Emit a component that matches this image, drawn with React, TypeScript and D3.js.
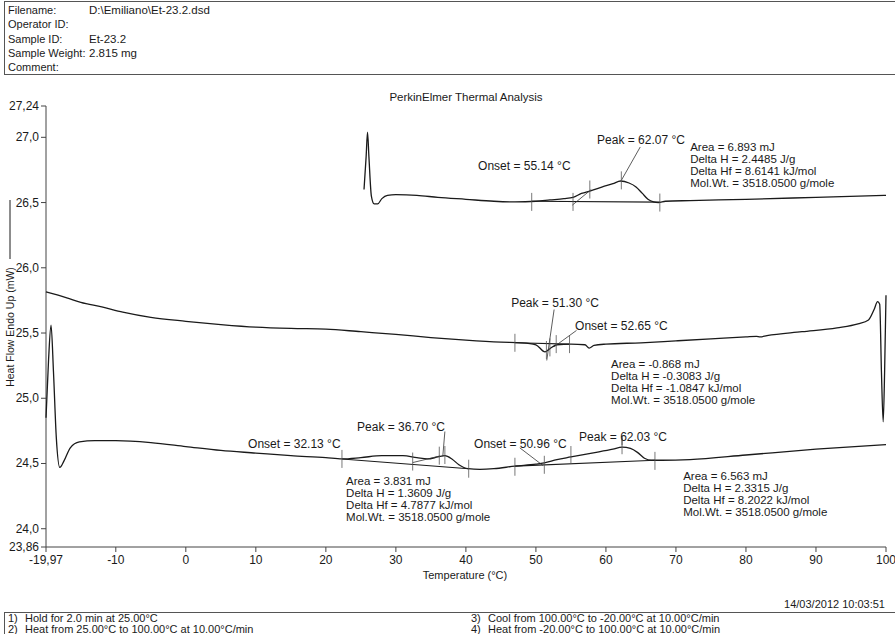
import React from "react";
import * as d3 from "d3";

// header / footer text
const headerLabels = ["Filename:", "Operator ID:", "Sample ID:", "Sample Weight:", "Comment:"];
const headerValues = ["D:\\Emiliano\\Et-23.2.dsd", "", "Et-23.2", "2.815 mg", ""];
const methodSteps = [
  "Hold for 2.0 min at 25.00°C",
  "Heat from 25.00°C to 100.00°C at 10.00°C/min",
  "Cool from 100.00°C to -20.00°C at 10.00°C/min",
  "Heat from -20.00°C to 100.00°C at 10.00°C/min",
];
const runDate = "14/03/2012 10:03:51";

// axes
const tempTicks = [-19.97, -10, 0, 10, 20, 30, 40, 50, 60, 70, 80, 90, 100];
const flowTicks = [23.86, 24.0, 24.5, 25.0, 25.5, 26.0, 26.5, 27.0, 27.24];
const flowTickLabels = ["23,86", "24,0", "24,5", "25,0", "25,5", "26,0", "26,5", "27,0", "27,24"];

// scan 2: heat 25 -> 100
const heat1T = [25.45, 25.75, 25.95, 26.15, 26.5, 26.9, 27.4, 28.0, 28.8, 30, 33, 36, 40, 44, 47, 50, 52, 54, 55.3, 56.5, 57.8, 59.5, 61, 62.1, 63.3, 64.3, 65.2, 66.0, 66.8, 67.5, 68.5, 72, 80, 90, 100];
const heat1HF = [26.6, 26.85, 27.04, 26.85, 26.55, 26.49, 26.49, 26.53, 26.555, 26.56, 26.555, 26.54, 26.525, 26.51, 26.505, 26.51, 26.52, 26.53, 26.54, 26.57, 26.59, 26.62, 26.645, 26.665, 26.65, 26.62, 26.57, 26.525, 26.505, 26.5, 26.51, 26.515, 26.525, 26.54, 26.555];

// scan 3: cool 100 -> -20
const coolT = [-19.97, -17, -15, -12, -9, -5, 0, 5, 10, 15, 20, 25, 30, 35, 40, 45, 48, 50, 51.3, 52, 53, 55, 57, 57.6, 58.3, 60, 65, 70, 75, 80, 81.5, 82, 83, 88, 93, 96, 97.5, 98.3, 98.8, 99.1, 99.35, 99.6, 99.8, 100];
const coolHF = [25.815, 25.77, 25.735, 25.7, 25.66, 25.62, 25.59, 25.565, 25.545, 25.535, 25.53, 25.51, 25.49, 25.465, 25.445, 25.43, 25.425, 25.41, 25.355, 25.38, 25.41, 25.415, 25.41, 25.385, 25.405, 25.415, 25.425, 25.44, 25.455, 25.47, 25.475, 25.47, 25.48, 25.51, 25.54, 25.57, 25.6, 25.68, 25.74, 25.72, 25.2, 24.82, 25.2, 25.79];

// scan 4: heat -20 -> 100
const heat2T = [-19.97, -19.6, -19.25, -18.9, -18.5, -18.0, -17.4, -16.5, -15.2, -13, -10, -5, 0, 5, 10, 15, 20, 22.3, 25, 28, 31, 33, 34.5, 36, 37, 38, 39, 40.3, 42, 44, 47, 50, 51.2, 53, 55, 58, 61, 62.3, 63.5, 64.5, 65.5, 66.5, 68, 72, 80, 90, 100];
const heat2HF = [24.85, 25.3, 25.56, 25.2, 24.7, 24.47, 24.52, 24.62, 24.665, 24.675, 24.675, 24.66, 24.63, 24.6, 24.58, 24.56, 24.545, 24.535, 24.545, 24.56, 24.56, 24.545, 24.535, 24.55, 24.56, 24.535, 24.49, 24.46, 24.455, 24.46, 24.48, 24.495, 24.505, 24.53, 24.55, 24.58, 24.61, 24.625, 24.615, 24.585, 24.54, 24.525, 24.525, 24.53, 24.565, 24.61, 24.645];

// integration baselines [T, HF]
const baselines: [number, number][][] = [
  [[49.4, 26.51], [67.7, 26.503]],
  [[47.0, 25.425], [54.8, 25.415]],
  [[22.3, 24.535], [40.4, 24.46]],
  [[47.0, 24.48], [67.0, 24.525]],
];

// leader / tangent lines [T, HF]
const leaders: [number, number][][] = [
  [[64.9, 26.926], [62.2, 26.67]],
  [[55.2, 26.48], [57.9, 26.6]],
  [[52.6, 25.68], [51.55, 25.29]],
  [[55.8, 25.52], [52.6, 25.395]],
  [[37.0, 24.745], [36.7, 24.555]],
  [[32.4, 24.507], [36.3, 24.558]],
  [[47.7, 24.62], [51.0, 24.485]],
  [[62.3, 24.7], [62.3, 24.64]],
];

// event marks [T, HF]
const markPoints: [number, number][] = [
  [49.4, 26.505], [55.3, 26.505], [57.7, 26.6], [62.2, 26.67], [67.7, 26.5],
  [47.0, 25.425], [51.5, 25.37], [52.0, 25.39], [52.9, 25.415], [54.8, 25.415],
  [22.3, 24.535], [32.4, 24.515], [36.2, 24.56], [37.0, 24.565], [40.4, 24.46],
  [47.0, 24.475], [51.2, 24.49], [55.0, 24.565], [62.3, 24.64], [67.0, 24.52],
];

const peakLabels = [
  { text: "Peak = 62.07 °C", t: 58.74, hf: 26.949 },
  { text: "Onset = 55.14 °C", t: 41.74, hf: 26.75 },
  { text: "Peak = 51.30 °C", t: 46.46, hf: 25.7 },
  { text: "Onset = 52.65 °C", t: 55.6, hf: 25.524 },
  { text: "Peak = 36.70 °C", t: 24.46, hf: 24.75 },
  { text: "Onset = 32.13 °C", t: 8.89, hf: 24.619 },
  { text: "Onset = 50.96 °C", t: 41.17, hf: 24.619 },
  { text: "Peak = 62.03 °C", t: 56.17, hf: 24.673 },
];

const areaBlocks = [
  { t: 72.03, hf: 26.895, lines: ["Area = 6.893 mJ", "Delta H = 2.4485 J/g", "Delta Hf = 8.6141 kJ/mol", "Mol.Wt. = 3518.0500 g/mole"] },
  { t: 60.74, hf: 25.232, lines: ["Area = -0.868 mJ", "Delta H = -0.3083 J/g", "Delta Hf = -1.0847 kJ/mol", "Mol.Wt. = 3518.0500 g/mole"] },
  { t: 22.89, hf: 24.336, lines: ["Area = 3.831 mJ", "Delta H = 1.3609 J/g", "Delta Hf = 4.7877 kJ/mol", "Mol.Wt. = 3518.0500 g/mole"] },
  { t: 71.03, hf: 24.374, lines: ["Area = 6.563 mJ", "Delta H = 2.3315 J/g", "Delta Hf = 8.2022 kJ/mol", "Mol.Wt. = 3518.0500 g/mole"] },
];

const W = 895;
const H = 634;
const font = "'Liberation Sans', Arial, sans-serif";
const ink = "#1a1a1a";

const App = () => {
  const x = d3.scaleLinear().domain([-19.97, 100]).range([46, 886]);
  const y = d3.scaleLinear().domain([23.86, 27.24]).range([547, 106]);

  const line = d3
    .line<[number, number]>()
    .x((d) => x(d[0]))
    .y((d) => y(d[1]))
    .curve(d3.curveMonotoneX);
  const straight = d3
    .line<[number, number]>()
    .x((d) => x(d[0]))
    .y((d) => y(d[1]));

  const zip = (a: number[], b: number[]) => a.map((v, i) => [v, b[i]] as [number, number]);
  const curves = [zip(heat1T, heat1HF), zip(coolT, coolHF), zip(heat2T, heat2HF)];

  return (
    <svg
      width={W}
      height={H}
      style={{ position: "absolute", left: 0, top: 0, background: "#fff" }}
      fontFamily={font}
    >
      <rect x={0} y={0} width={W} height={H} fill="#fff" />

      {/* header box */}
      <rect x={4.5} y={1.5} width={W} height={73} fill="none" stroke="#555" />
      {headerLabels.map((l, i) => (
        <g key={l}>
          <text x={8} y={14 + i * 14.3} fontSize={11} fill={ink}>{l}</text>
          <text x={89} y={14 + i * 14.3} fontSize={11.5} fill={ink}>{headerValues[i]}</text>
        </g>
      ))}

      <text x={466} y={101} fontSize={11.5} textAnchor="middle" fill={ink}>PerkinElmer Thermal Analysis</text>

      {/* y axis */}
      <line x1={46} x2={46} y1={y(27.24)} y2={y(23.86)} stroke="#444" />
      {flowTicks.map((t, i) => (
        <g key={t}>
          <line x1={41} x2={46} y1={y(t)} y2={y(t)} stroke="#444" />
          <text x={39} y={y(t) + 4} fontSize={12} textAnchor="end" fill={ink}>{flowTickLabels[i]}</text>
        </g>
      ))}
      <text
        transform={`translate(14,${327}) rotate(-90)`}
        fontSize={10.5}
        textAnchor="middle"
        fill={ink}
      >
        Heat Flow Endo Up (mW)
      </text>
      <line x1={10} x2={10} y1={200} y2={259} stroke={ink} />

      {/* x axis */}
      <line x1={x(-19.97)} x2={x(100)} y1={547} y2={547} stroke="#444" />
      {tempTicks.map((t) => (
        <g key={t}>
          <line x1={x(t)} x2={x(t)} y1={547} y2={552} stroke="#444" />
          <text x={x(t)} y={564} fontSize={12} textAnchor="middle" fill={ink}>
            {t === -19.97 ? "-19,97" : String(t)}
          </text>
        </g>
      ))}
      <text x={465} y={579} fontSize={11} textAnchor="middle" fill={ink}>Temperature (°C)</text>

      {/* curves */}
      {curves.map((c, i) => (
        <path key={i} d={line(c) || ""} fill="none" stroke={ink} strokeWidth={1.3} />
      ))}
      {baselines.map((b, i) => (
        <path key={i} d={straight(b) || ""} fill="none" stroke={ink} strokeWidth={1.1} />
      ))}
      {leaders.map((b, i) => (
        <path key={i} d={straight(b) || ""} fill="none" stroke="#333" strokeWidth={0.8} />
      ))}
      {markPoints.map((p, i) => (
        <line key={i} x1={x(p[0])} x2={x(p[0])} y1={y(p[1]) - 9} y2={y(p[1]) + 9} stroke="#555" strokeWidth={0.8} />
      ))}

      {/* annotations */}
      {peakLabels.map((p) => (
        <text key={p.text} x={x(p.t)} y={y(p.hf)} fontSize={12} fill={ink}>{p.text}</text>
      ))}
      {areaBlocks.map((b, i) => (
        <g key={i}>
          {b.lines.map((l, j) => (
            <text key={j} x={x(b.t)} y={y(b.hf) + j * 12} fontSize={11.5} fill={ink}>{l}</text>
          ))}
        </g>
      ))}

      {/* footer */}
      <text x={885} y={608} fontSize={11} textAnchor="end" fill={ink}>{runDate}</text>
      <rect x={4.5} y={612.5} width={W} height={30} fill="none" stroke="#555" />
      {methodSteps.map((s, i) => {
        const col = i < 2 ? 0 : 1;
        const row = i % 2;
        const bx = col === 0 ? 8 : 471;
        return (
          <g key={s}>
            <text x={bx} y={622 + row * 10.5} fontSize={11} fill={ink}>{`${i + 1})`}</text>
            <text x={bx + 17} y={622 + row * 10.5} fontSize={11} fill={ink}>{s}</text>
          </g>
        );
      })}
    </svg>
  );
};

export default App;
